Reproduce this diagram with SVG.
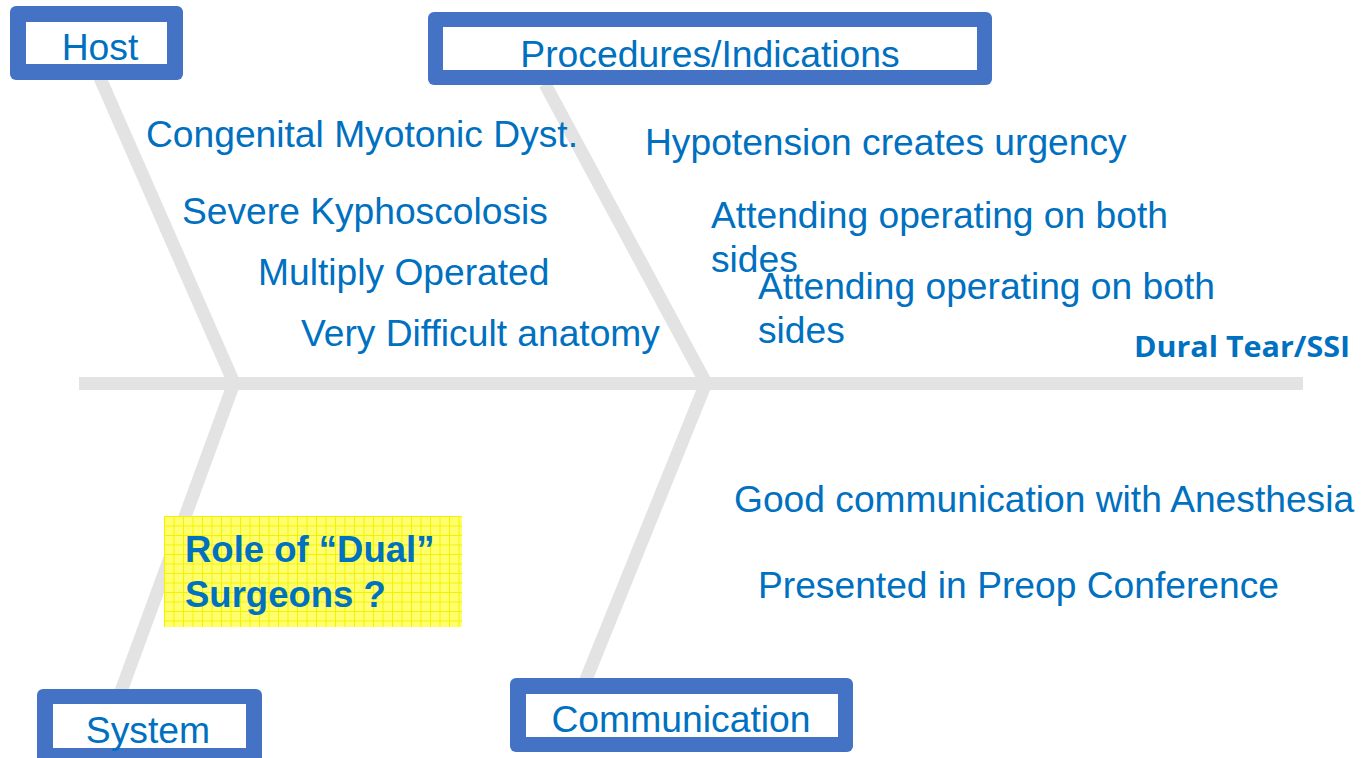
<svg xmlns="http://www.w3.org/2000/svg" width="1361" height="758" viewBox="0 0 1361 758">
<defs>
<style>
.bone{stroke:#e3e3e3;stroke-width:13;fill:none;stroke-linecap:butt}
.outer{fill:#4472c4}
.inner{fill:#ffffff}
.lbl{font-family:"Liberation Sans",Arial,sans-serif;font-size:37.3px;fill:#0070c0;text-anchor:middle}
.txt{font-family:"Liberation Sans",Arial,sans-serif;font-size:37.2px;fill:#0070c0}
.bold{font-family:"Liberation Sans",Arial,sans-serif;font-size:36.5px;font-weight:bold;fill:#0070c0}
.effect{font-family:"Open Sans","Noto Sans",sans-serif;font-size:29px;font-weight:bold;fill:#0070c0}
</style>
<pattern id="grid" x="164" y="516" width="9.5" height="9.5" patternUnits="userSpaceOnUse">
<rect width="9.5" height="9.5" fill="#ffff6e"/>
<path d="M0 0.5H9.5M0.5 0V9.5" stroke="#f2f200" stroke-width="1"/>
</pattern>
</defs>
<rect width="1361" height="758" fill="#ffffff"/>
<g id="connectors">
<line class="bone" x1="79" y1="383.5" x2="1303" y2="383.5"/>
<line class="bone" x1="100" y1="78" x2="234" y2="383"/>
<line class="bone" x1="234" y1="383" x2="120" y2="694"/>
<line class="bone" x1="545" y1="84" x2="706" y2="383"/>
<line class="bone" x1="706" y1="383" x2="585" y2="682"/>
</g>
<g id="host">
<rect class="outer" x="10" y="6" width="173" height="74" rx="6"/>
<rect class="inner" x="26" y="22" width="141" height="42"/>
<text class="lbl" x="100" y="60">Host</text>
</g>
<g id="procedures">
<rect class="outer" x="428" y="12" width="564" height="73" rx="6"/>
<rect class="inner" x="443" y="27" width="534" height="43"/>
<text class="lbl" x="710" y="67">Procedures/Indications</text>
</g>
<g id="system">
<rect class="outer" x="37" y="689" width="225" height="80" rx="6"/>
<rect class="inner" x="53" y="704" width="193" height="44"/>
<text class="lbl" x="148" y="743">System</text>
</g>
<g id="communication">
<rect class="outer" x="510" y="678" width="343" height="74" rx="6"/>
<rect class="inner" x="526" y="694" width="312" height="43"/>
<text class="lbl" x="681" y="732">Communication</text>
</g>
<g id="effect">
<text class="effect" x="1134" y="357" textLength="216" lengthAdjust="spacingAndGlyphs">Dural Tear/SSI</text>
</g>
<g id="host-causes">
<text class="txt" x="146" y="147">Congenital Myotonic Dyst.</text>
<text class="txt" x="182" y="224">Severe Kyphoscolosis</text>
<text class="txt" x="258" y="285">Multiply Operated</text>
<text class="txt" x="301" y="346">Very Difficult anatomy</text>
</g>
<g id="procedure-causes">
<text class="txt" x="645" y="155">Hypotension creates urgency</text>
<text class="txt" x="711" y="228">Attending operating on both</text>
<text class="txt" x="711" y="272">sides</text>
<text class="txt" x="758" y="299">Attending operating on both</text>
<text class="txt" x="758" y="343">sides</text>
</g>
<g id="system-causes">
<rect x="164" y="516" width="298" height="111" fill="url(#grid)"/>
<text class="bold" x="185" y="562">Role of “Dual”</text>
<text class="bold" x="185" y="607">Surgeons ?</text>
</g>
<g id="communication-causes">
<text class="txt" x="734" y="512">Good communication with Anesthesia</text>
<text class="txt" x="758" y="598">Presented in Preop Conference</text>
</g>
</svg>
